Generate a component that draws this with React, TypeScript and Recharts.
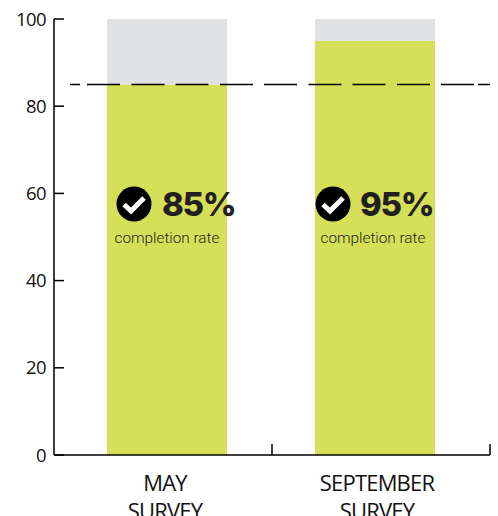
import { BarChart, Bar, XAxis, YAxis, ReferenceLine, LabelList } from "recharts";

const surveys = ["MAY", "SEPTEMBER"];
const completed = [85, 95];
const remaining = [15, 5];
const yTicks = [0, 20, 40, 60, 80, 100];
const targetRate = 85;
// band edges along the bottom, drawn as short upward ticks
const bandEdges = [0.5, 1];
const bandTickHeight = 2.5;

const chartData = surveys.map((survey, i) => ({
    survey,
    completed: completed[i],
    remaining: remaining[i],
}));

const INK = "#231f20";

// per-bar nudges, the badge is not centred the same way in both bars
const badgeOffsets = [
    { icon: 27, pct: 55, caption: 60 },
    { icon: 18, pct: 45, caption: 58 },
];

function SurveyTick({ x, y, payload, index }: any) {
    const nudge = index === 0 ? -2 : 2;
    return (
        <text x={x + nudge} textAnchor="middle" fontFamily="Open Sans" fontSize={22} letterSpacing={-0.8} fill="#111">
            <tspan x={x + nudge} y={y + 28}>{payload.value}</tspan>
            <tspan x={x + nudge} y={y + 56}>SURVEY</tspan>
        </text>
    );
}

function RateBadge({ x, y, height, value, index }: any) {
    const o = badgeOffsets[index];
    const base = y + height;
    const cx = x + o.icon;
    const cy = base - 251;
    return (
        <g>
            <circle cx={cx} cy={cy} r={17.5} fill="#000" />
            <polyline
                points={`${cx - 10},${cy + 0.5} ${cx - 3},${cy + 7} ${cx + 10},${cy - 6}`}
                fill="none"
                stroke="#fff"
                strokeWidth={5}
            />
            <text x={x + o.pct} y={base - 239} fontFamily="Inter" fontWeight={800} fontSize={33} letterSpacing={-1.3} fill={INK}>
                {value}%
            </text>
            <text
                x={x + o.caption}
                y={base - 212}
                textAnchor="middle"
                fontFamily="Roboto"
                fontWeight={300}
                fontSize={15.3}
                fill={INK}
            >
                completion rate
            </text>
        </g>
    );
}

export default function App() {
    return (
        <div style={{ position: "absolute", left: 0, top: 0, width: 498, height: 516, overflow: "hidden" }}>
            <BarChart
                width={498}
                height={516}
                data={chartData}
                margin={{ top: 19, right: 8, bottom: 0, left: 0 }}
                barSize={120}
            >
                <XAxis
                    dataKey="survey"
                    height={61}
                    padding={{ left: 9, right: 11 }}
                    interval={0}
                    tick={<SurveyTick />}
                    tickLine={false}
                    axisLine={{ stroke: "#000", strokeWidth: 1.5 }}
                />
                <XAxis xAxisId="frame" type="number" domain={[0, 1]} allowDataOverflow hide />
                <YAxis
                    width={54}
                    domain={[0, 100]}
                    ticks={yTicks}
                    interval={0}
                    tickSize={-10}
                    tickMargin={18}
                    tick={{ fill: "#111", fontFamily: "Open Sans", fontSize: 18.5, letterSpacing: -0.6 }}
                    tickLine={{ stroke: "#000", strokeWidth: 1.5 }}
                    axisLine={{ stroke: "#000", strokeWidth: 1.5 }}
                />
                <Bar dataKey="completed" stackId="rate" fill="#d6df58" isAnimationActive={false}>
                    <LabelList dataKey="completed" content={<RateBadge />} />
                </Bar>
                <Bar dataKey="remaining" stackId="rate" fill="#e0e1e3" isAnimationActive={false} />
                <ReferenceLine
                    y={targetRate}
                    stroke="#000"
                    strokeWidth={1.5}
                    strokeDasharray="0 16 10 7 33 11.5 33 11 33 11.5 33 11 33 11.5 33 11 33 11.5 33 11 33 4 10"
                />
                {bandEdges.map((edge) => (
                    <ReferenceLine
                        key={edge}
                        xAxisId="frame"
                        segment={[
                            { x: edge, y: 0 },
                            { x: edge, y: bandTickHeight },
                        ]}
                        stroke="#000"
                        strokeWidth={1.5}
                    />
                ))}
            </BarChart>
        </div>
    );
}
